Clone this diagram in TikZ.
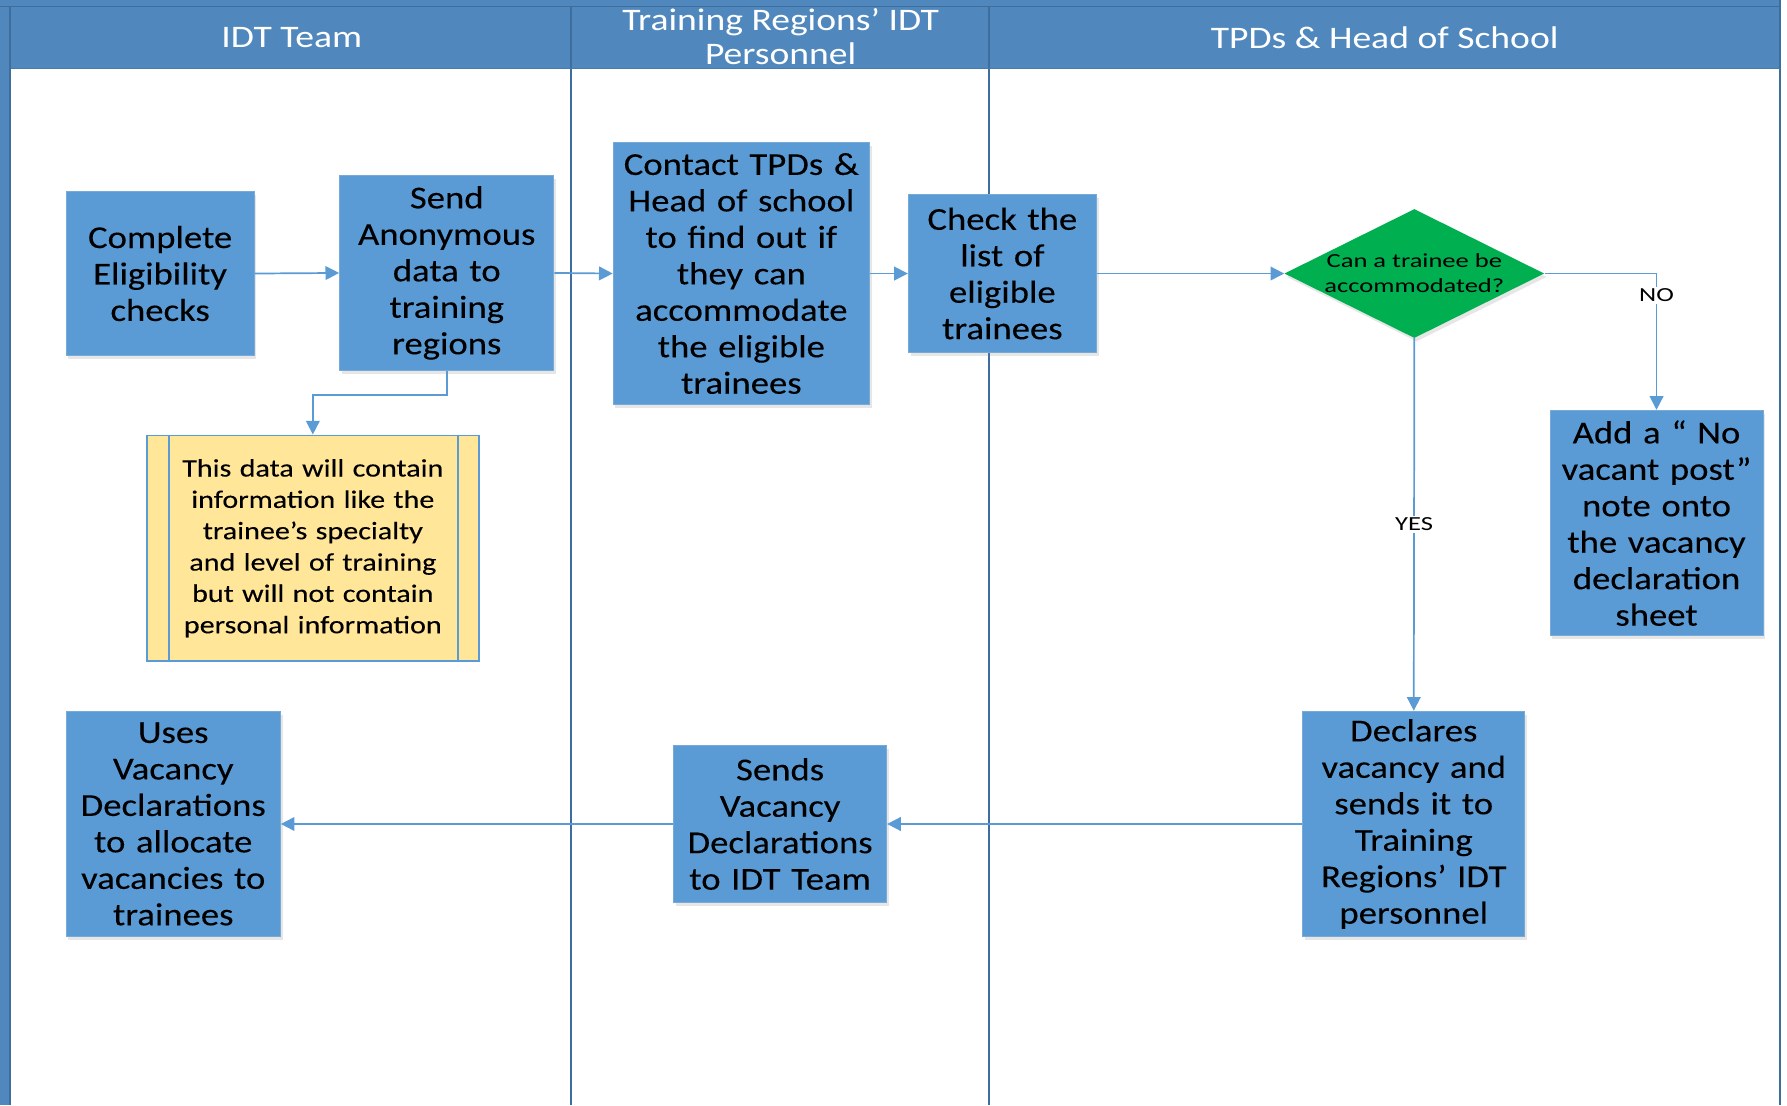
\documentclass[tikz,border=0pt]{standalone}
\usepackage{fontspec}
\setmainfont{Carlito}
\newfontfamily\boxface[FakeStretch=1.15,FakeBold=0.2]{Carlito}
\newfontfamily\noteface[FakeStretch=1.2,FakeBold=0.2]{Carlito}
\newfontfamily\headface[FakeStretch=1.2]{Carlito}
\newfontfamily\smallface[FakeStretch=1.33]{Carlito}
\usetikzlibrary{arrows.meta,shapes.geometric,shadows}
\definecolor{laneblue}{RGB}{80,136,190}
\definecolor{laneedge}{RGB}{62,110,158}
\definecolor{boxblue}{RGB}{91,155,213}
\definecolor{boxedge}{RGB}{120,170,215}
\definecolor{diagreen}{RGB}{0,176,80}
\definecolor{noteyellow}{RGB}{255,230,153}
\begin{document}
\begin{tikzpicture}[x=1pt,y=-1pt,
    procbox/.style={fill=boxblue, draw=boxedge, line width=0.8pt, align=center, inner sep=0pt,
      font=\boxface\fontsize{28}{32}\selectfont, drop shadow={opacity=0.2, shadow xshift=2pt, shadow yshift=-3pt}},
    notebox/.style={fill=noteyellow, draw=boxblue, line width=1.5pt, align=center, inner sep=0pt,
      font=\noteface\fontsize{22}{27.5}\selectfont},
    decision/.style={diamond, aspect=2, fill=diagreen, inner sep=0pt, minimum width=228pt, minimum height=110pt,
      align=center, font=\smallface\fontsize{17.5}{22}\selectfont, drop shadow={opacity=0.2, shadow xshift=2pt, shadow yshift=-3pt}},
    flow/.style={draw=boxblue, line width=1.5pt, -{Triangle[width=12pt,length=12pt]}},
    flowlabel/.style={fill=white, inner sep=2pt, font=\smallface\fontsize{17.5}{20}\selectfont},
    lanehead/.style={text=white, align=center, font=\headface\fontsize{27.5}{30}\selectfont}]
\useasboundingbox (0,0) rectangle (1568,970);
%Làn
\fill[laneblue] (0,0) rectangle (1562,60);
\fill[laneblue] (0,0) rectangle (10,970);
\draw[laneedge, line width=1pt] (0,6)--(1562,6);
\draw[laneedge, line width=1.5pt] (9,6)--(9,970);
\draw[laneedge, line width=2pt] (1562,0)--(1562,970);
\foreach \x in {501,868}{\draw[laneedge, line width=2pt] (\x,6)--(\x,970);}
\draw[laneedge!50!laneblue, line width=1pt] (10,60)--(1562,60);
\node[lanehead] (idt) at (256,33) {IDT Team};
\node[lanehead] (regions) at (685,32) {Training Regions’ IDT\\Personnel};
\node[lanehead] (tpds) at (1215,33) {TPDs \& Head of School};
%Các bước
\node[procbox, text width=165pt, minimum height=144pt] (elig) at (140.5,240) {Complete\\Eligibility\\checks};
\node[procbox, text width=188pt, minimum height=171pt] (send) at (392,239.5) {Send\\Anonymous\\data to\\training\\regions};
\node[procbox, text width=225pt, minimum height=230pt] (contact) at (650.5,240) {Contact TPDs \&\\Head of school\\to find out if\\they can\\accommodate\\the eligible\\trainees};
\node[procbox, text width=165pt, minimum height=138pt] (check) at (879.5,240) {Check the\\list of\\eligible\\trainees};
\node[decision] (can) at (1241,240) {Can a trainee be\\accommodated?};
\node[procbox, text width=187pt, minimum height=198pt] (novac) at (1453.5,459) {Add a “ No\\vacant post”\\note onto\\the vacancy\\declaration\\sheet};
\node[procbox, text width=195pt, minimum height=198pt] (declare) at (1240.5,723) {Declares\\vacancy and\\sends it to\\Training\\Regions’ IDT\\personnel};
\node[procbox, text width=187pt, minimum height=138pt] (sendvac) at (684.5,723) {Sends\\Vacancy\\Declarations\\to IDT Team};
\node[procbox, text width=188pt, minimum height=198pt] (uses) at (152,723) {Uses\\Vacancy\\Declarations\\to allocate\\vacancies to\\trainees};
\node[notebox, text width=291pt, minimum height=198pt] (note) at (274.5,481) {This data will contain\\information like the\\trainee’s specialty\\and level of training\\but will not contain\\personal information};
\draw[boxblue, line width=1.5pt] ([xshift=20pt]note.north west)--([xshift=20pt]note.south west);
\draw[boxblue, line width=1.5pt] ([xshift=-19pt]note.north east)--([xshift=-19pt]note.south east);
%Mũi tên
\draw[flow] (elig.east)--(send.west);
\draw[flow] (send.east)--(contact.west);
\draw[flow] (contact.east)--(check.west);
\draw[flow] (check.east)--(can.west);
\draw[flow] (can.east) -| node[flowlabel, pos=0.58] (no) {NO} (novac.north);
\draw[flow] (can.south) -- node[flowlabel, pos=0.5] (yes) {YES} (declare.north);
\draw[flow] (declare.west)--(sendvac.east);
\draw[flow] (sendvac.west)--(uses.east);
\draw[flow] (send.south)--++(0,21)-|(note.north);
\end{tikzpicture}
\end{document}
